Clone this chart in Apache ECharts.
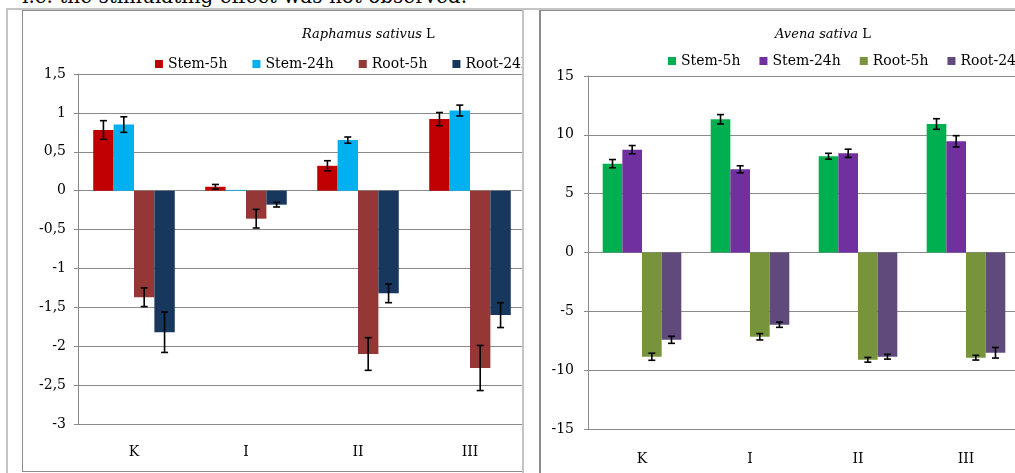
<!DOCTYPE html>
<html>
<head>
<meta charset="utf-8">
<script src="https://cdn.jsdelivr.net/npm/echarts@6/dist/echarts.min.js"></script>
<style>
  html, body { margin: 0; padding: 0; background: #fff; }
  #page { position: relative; width: 1015px; height: 473px; overflow: hidden; background: #fff; }
  .clip { position: absolute; overflow: hidden; }
  .line { position: absolute; }
  #caption { position: absolute; left: 22px; top: -16px; font-family: "DejaVu Serif", serif; font-size: 20px; color: #000; white-space: nowrap; }
</style>
</head>
<body>
<div id="page">
  <div id="caption">i.e. the stimulating effect was not observed.</div>
  <div class="clip" style="left:22px; top:10px; width:501px; height:461px;">
    <div id="chartL" style="position:absolute; left:0; top:0; width:560px; height:461px;"></div>
  </div>
  <div class="clip" style="left:540px; top:10px; width:475px; height:463px;">
    <div id="chartR" style="position:absolute; left:0; top:0; width:520px; height:463px;"></div>
  </div>
  <!-- panel frames -->
  <div class="line" style="left:6px; top:8px; width:1009px; height:2px; background:#c4c4c4;"></div>
  <div class="line" style="left:6px; top:8px; width:2px; height:465px; background:#c4c4c4;"></div>
  <div class="line" style="left:22px; top:10px; width:501px; height:1px; background:#8c8c8c;"></div>
  <div class="line" style="left:22px; top:10px; width:1px; height:462px; background:#8c8c8c;"></div>
  <div class="line" style="left:22px; top:471px; width:501px; height:1px; background:#8c8c8c;"></div>
  <div class="line" style="left:522px; top:8px; width:2px; height:465px; background:#c4c4c4;"></div>
  <div class="line" style="left:540px; top:10px; width:475px; height:1px; background:#8c8c8c;"></div>
  <div class="line" style="left:539px; top:10px; width:2px; height:463px; background:#8c8c8c;"></div>
</div>
<script>
// Treatment groups on the horizontal axis
const categories = ['K', 'I', 'II', 'III'];
const seriesNames = ['Stem-5h', 'Stem-24h', 'Root-5h', 'Root-24h'];

// Raphanus sativus L: means and error half-widths
const raphStem5 = [0.78, 0.05, 0.32, 0.92];
const raphStem5Err = [0.12, 0.03, 0.065, 0.085];
const raphStem24 = [0.85, 0.01, 0.65, 1.03];
const raphStem24Err = [0.10, 0, 0.04, 0.07];
const raphRoot5 = [-1.37, -0.36, -2.10, -2.28];
const raphRoot5Err = [0.12, 0.12, 0.21, 0.29];
const raphRoot24 = [-1.82, -0.18, -1.32, -1.60];
const raphRoot24Err = [0.26, 0.03, 0.12, 0.16];

// Avena sativa L: means and error half-widths
const avenStem5 = [7.55, 11.32, 8.18, 10.92];
const avenStem5Err = [0.35, 0.40, 0.25, 0.45];
const avenStem24 = [8.74, 7.07, 8.43, 9.45];
const avenStem24Err = [0.35, 0.30, 0.35, 0.48];
const avenRoot5 = [-8.86, -7.16, -9.12, -8.94];
const avenRoot5Err = [0.30, 0.27, 0.20, 0.20];
const avenRoot24 = [-7.42, -6.14, -8.86, -8.52];
const avenRoot24Err = [0.30, 0.22, 0.20, 0.45];

// Y axis tick settings
const raphTicks = { min: -3, max: 1.5, interval: 0.5 };
const avenTicks = { min: -15, max: 15, interval: 5 };

const FONT = 'DejaVu Serif';
const BAR_RATIO = 0.182;
const GRID_COLOR = '#8a8a8a';

function errorSeries(idx, vals, errs) {
  return {
    type: 'custom',
    name: seriesNames[idx] + ' error',
    z: 5,
    silent: true,
    data: vals.map((v, i) => [i, v - errs[i], v + errs[i], errs[i]]),
    renderItem: function (params, api) {
      if (api.value(3) <= 0) return null;
      const x = api.value(0);
      const lo = api.coord([x, api.value(1)]);
      const hi = api.coord([x, api.value(2)]);
      const band = api.size([1, 0])[0];
      const cx = lo[0] + (idx - 1.5) * band * BAR_RATIO;
      const half = 3.5;
      const style = { stroke: '#000', lineWidth: 1.6 };
      return {
        type: 'group',
        children: [
          { type: 'line', shape: { x1: cx, y1: lo[1], x2: cx, y2: hi[1] }, style: style },
          { type: 'line', shape: { x1: cx - half, y1: lo[1], x2: cx + half, y2: lo[1] }, style: style },
          { type: 'line', shape: { x1: cx - half, y1: hi[1], x2: cx + half, y2: hi[1] }, style: style }
        ]
      };
    }
  };
}

function buildOption(cfg) {
  const bars = cfg.values.map((vals, i) => ({
    type: 'bar',
    name: seriesNames[i],
    data: vals,
    barWidth: (BAR_RATIO * 100) + '%',
    barGap: '0%',
    itemStyle: { color: cfg.colors[i] },
    emphasis: { disabled: true }
  }));
  const errs = cfg.values.map((vals, i) => errorSeries(i, vals, cfg.errors[i]));
  return {
    animation: false,
    title: {
      text: '{i|' + cfg.title + '} L',
      left: cfg.titleLeft,
      top: 18,
      padding: 0,
      textStyle: {
        fontFamily: FONT, fontSize: 13, fontWeight: 'normal', color: '#000',
        rich: { i: { fontFamily: FONT, fontSize: 13, fontStyle: 'italic', color: '#000' } }
      }
    },
    legend: {
      data: seriesNames,
      left: cfg.legendLeft,
      top: cfg.legendTop,
      padding: 0,
      icon: 'rect',
      itemWidth: 8,
      itemHeight: 8,
      itemGap: cfg.legendGap,
      textStyle: { fontFamily: FONT, fontSize: 14, color: '#000' }
    },
    grid: cfg.grid,
    xAxis: {
      type: 'category',
      data: categories,
      axisLine: { show: false },
      axisTick: { show: false },
      axisLabel: { margin: cfg.xLabelMargin, fontFamily: FONT, fontSize: 14, color: '#000' },
      splitLine: { show: false }
    },
    yAxis: {
      type: 'value',
      min: cfg.ticks.min,
      max: cfg.ticks.max,
      interval: cfg.ticks.interval,
      axisLine: { show: true, lineStyle: { color: GRID_COLOR, width: 1 } },
      axisTick: { show: true, length: 4, lineStyle: { color: GRID_COLOR } },
      axisLabel: {
        margin: cfg.labelMargin, fontFamily: FONT, fontSize: 14, color: '#000',
        formatter: v => String(v).replace('.', ',')
      },
      splitLine: { show: true, lineStyle: { color: GRID_COLOR, width: 1 } }
    },
    series: bars.concat(errs)
  };
}

const chartL = echarts.init(document.getElementById('chartL'), null, { renderer: 'canvas' });
chartL.setOption(buildOption({
  title: 'Raphamus sativus',
  titleLeft: 280,
  legendLeft: 133,
  legendTop: 47,
  legendGap: 25,
  grid: { left: 56, top: 64, width: 448, height: 350 },
  ticks: raphTicks,
  labelMargin: 12,
  xLabelMargin: 21,
  colors: ['#C00000', '#00B0F0', '#953735', '#17375E'],
  values: [raphStem5, raphStem24, raphRoot5, raphRoot24],
  errors: [raphStem5Err, raphStem24Err, raphRoot5Err, raphRoot24Err]
}));

const chartR = echarts.init(document.getElementById('chartR'), null, { renderer: 'canvas' });
chartR.setOption(buildOption({
  title: 'Avena sativa',
  titleLeft: 235,
  legendLeft: 128,
  legendTop: 44,
  legendGap: 19,
  grid: { left: 48, top: 66, width: 432, height: 353 },
  ticks: avenTicks,
  labelMargin: 14,
  xLabelMargin: 23,
  colors: ['#00B050', '#7030A0', '#77933C', '#604A7B'],
  values: [avenStem5, avenStem24, avenRoot5, avenRoot24],
  errors: [avenStem5Err, avenStem24Err, avenRoot5Err, avenRoot24Err]
}));
</script>
</body>
</html>
